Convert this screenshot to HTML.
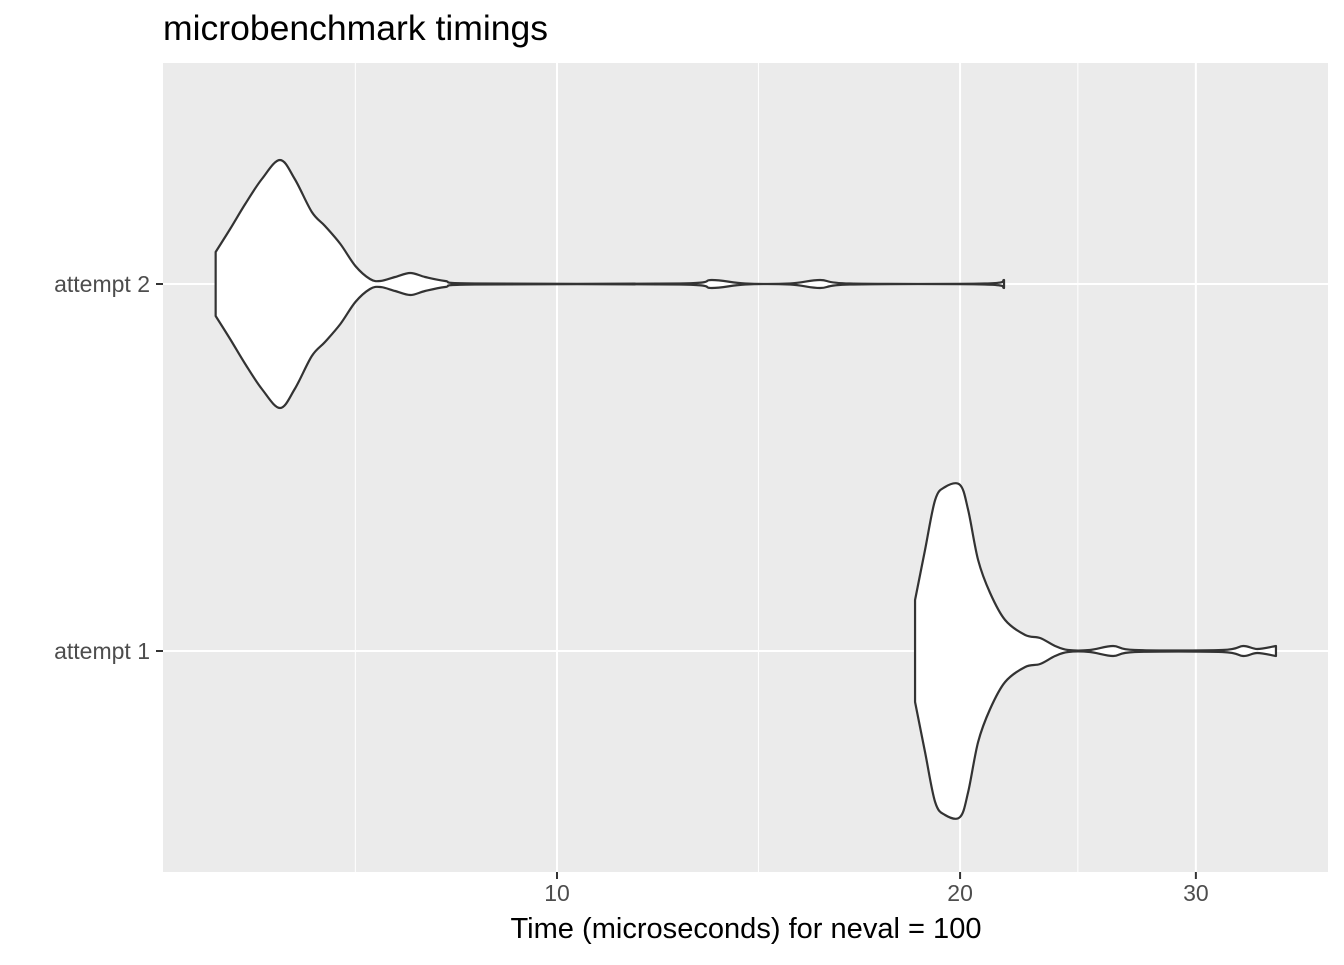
<!DOCTYPE html>
<html><head><meta charset="utf-8"><style>
body{margin:0;background:#fff;font-family:"Liberation Sans",sans-serif}
</style></head><body>
<svg id="chart" width="1344" height="960" xmlns="http://www.w3.org/2000/svg">
<text x="163" y="40" font-size="35" fill="#000" textLength="385" lengthAdjust="spacingAndGlyphs">microbenchmark timings</text>
<rect x="163" y="63" width="1165" height="809" fill="#ebebeb"/>
<g id="grid"></g>
<g id="violins"></g>
<g id="axes"></g>
<text x="746" y="938" font-size="29" text-anchor="middle" fill="#000" textLength="471" lengthAdjust="spacingAndGlyphs">Time (microseconds) for neval = 100</text>
</svg>
<script>
const categories = ["attempt 1", "attempt 2"];
const xTicks = [10, 20, 30];
const xMinor = [7.07, 14.14, 24.49];
const times1 = [18.51,18.83,19.16,19.49,20,20.28,20.63,21.06,21.61,22.37,22.95,23.55,24.08,25.0,26.02,27.01,31.39,32.54,33.34,34.43];
const dens1  = [51,101,151,164,166,141,91,58,31,16,13,5,1,1,5,1,1,5,2,5];
const times2 = [5.56,5.70,5.85,6.02,6.21,6.37,6.56,6.71,6.89,7.07,7.25,7.38,7.57,7.77,7.97,8.25,8.68,12.35,13.05,13.82,14.93,15.72,16.55,20.87,21.57];
const dens2  = [32,55,80,105,124,105,72,58,40,18,5,3,7,11,7,3,0.5,0.5,4,0.5,0.5,4,0.5,0.5,4];

const NS="http://www.w3.org/2000/svg";
function xs(v){return 557+1339*(Math.log10(v)-1);}
function ys(i){return [651,284][i];}
function mk(tag,attrs,parent){const e=document.createElementNS(NS,tag);for(const k in attrs)e.setAttribute(k,attrs[k]);parent.appendChild(e);return e;}
const grid=document.getElementById('grid'),axes=document.getElementById('axes'),vg=document.getElementById('violins');
xMinor.forEach(v=>{const l=mk('line',{x1:xs(v),x2:xs(v),y1:63,y2:872,stroke:'#fff','stroke-width':1},grid);

});
xTicks.forEach(v=>{const l=mk('line',{x1:xs(v),x2:xs(v),y1:63,y2:872,stroke:'#fff','stroke-width':2},grid);


const t=mk('line',{x1:xs(v),x2:xs(v),y1:872,y2:879,stroke:'#333','stroke-width':2},axes);


const tx=mk('text',{x:xs(v),y:901,'font-size':23,'text-anchor':'middle',fill:'#4d4d4d'},axes);tx.textContent=v;

});
categories.forEach((c,i)=>{const y=ys(i);
const l=mk('line',{x1:163,x2:1328,y1:y,y2:y,stroke:'#fff','stroke-width':2},grid);


const t=mk('line',{x1:156,x2:163,y1:y,y2:y,stroke:'#333','stroke-width':2},axes);


const tx=mk('text',{x:150,y:y+8,'font-size':23,'text-anchor':'end',fill:'#4d4d4d'},axes);tx.textContent=c;

});
function smooth(pts){let d='M'+pts[0][0]+','+pts[0][1];
for(let i=0;i<pts.length-1;i++){const p0=pts[Math.max(i-1,0)],p1=pts[i],p2=pts[i+1],p3=pts[Math.min(i+2,pts.length-1)];
const c1=[p1[0]+(p2[0]-p0[0])/6,p1[1]+(p2[1]-p0[1])/6],c2=[p2[0]-(p3[0]-p1[0])/6,p2[1]-(p3[1]-p1[1])/6];
d+=' C'+c1.join(',')+' '+c2.join(',')+' '+p2.join(',');}return d;}
const scale=1;
[[times1,dens1],[times2,dens2]].forEach(([t,dn],i)=>{const y=ys(i);
const top=t.map((v,k)=>[xs(v),y-dn[k]*scale]);
const bot=t.map((v,k)=>[xs(v),y+dn[k]*scale]).reverse();
const d=smooth(top)+' L'+bot[0].join(',')+smooth(bot).replace(/^M[^ ]+/,'')+' Z';
const p=mk('path',{d:d,fill:'#fff',stroke:'#333','stroke-width':2.2,'stroke-linejoin':'round'},vg);

});
</script>
</body></html>
